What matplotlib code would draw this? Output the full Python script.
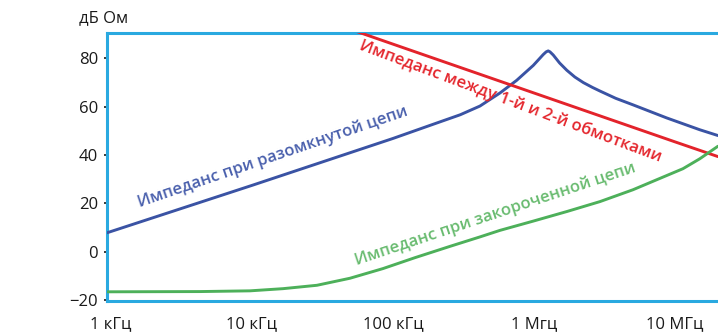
import numpy as np
import matplotlib
matplotlib.use("Agg")
import matplotlib.pyplot as plt

# ---- data ----
blue_f = [9.37e2, 1e4, 1e5, 1.83e5, 3e5, 4.14e5, 5.74e5, 7.53e5, 9.89e5, 1.164e6,
          1.22e6, 1.262e6, 1.30e6, 1.37e6, 1.52e6, 1.71e6, 1.95e6, 2.24e6, 2.6e6, 2.94e6,
          3.8e6, 5.04e6, 8.73e6, 1.50e7, 2.02e7]
blue_v = [7.8, 27.4, 46.8, 52.2, 56.6, 60.2, 65.6, 70.8, 77.0, 81.5,
          82.6, 83.0, 82.6, 81.3, 78.0, 75.0, 72.2, 69.9, 67.9, 66.4,
          63.4, 60.7, 55.3, 50.4, 48.0]

red_f = [5e4, 1e5, 1e6, 1e7, 2.02e7]
red_v = [91.9, 85.8, 65.6, 45.4, 39.3]

green_f = [9.37e2, 4.28e3, 9.68e3, 1.66e4, 2.89e4, 4.95e4, 8.49e4, 1.43e5, 2.54e5, 4.14e5,
           5.74e5, 9.84e5, 1.714e6, 2.94e6, 5.04e6, 7.83e6, 1.14e7, 1.50e7, 2.02e7]
green_v = [-16.6, -16.5, -16.2, -15.3, -13.9, -11.0, -7.0, -2.5, 2.2, 6.1,
           8.8, 12.6, 16.6, 20.7, 25.6, 30.3, 34.3, 38.4, 43.6]

x_ticks = [1e3, 1e4, 1e5, 1e6, 1e7]
x_labels = ["1 кГц", "10 кГц", "100 кГц", "1 Мгц", "10 МГц"]
y_ticks = [-20, 0, 20, 40, 60, 80]
y_labels = ["\u221220", "0", "20", "40", "60", "80"]

plt.rcParams['font.family'] = ['Open Sans', 'DejaVu Sans']

W, H = 718, 334
fig = plt.figure(figsize=(W / 100, H / 100), dpi=100)
ax = fig.add_axes([107 / W, 1 - 301 / H, 1 - 107 / W, (301 - 33) / H])

blue_c = "#3a53a4"
red_c = "#e3232b"
green_c = "#4db05a"
frame_c = "#2aa9e0"

kw = dict(lw=2.1, solid_joinstyle='round', solid_capstyle='round', zorder=3)
ax.plot(blue_f, blue_v, color=blue_c, **kw)
ax.plot(red_f, red_v, color=red_c, **kw)
ax.plot(green_f, green_v, color=green_c, **kw)

ax.set_xscale('log')
ax.set_xlim(9.37e2, 2.02e7)
ax.set_ylim(-20.4, 90.4)

ax.set_xticks(x_ticks)
ax.set_xticklabels(x_labels)
ax.xaxis.set_minor_locator(matplotlib.ticker.NullLocator())
ax.set_yticks(y_ticks)
ax.set_yticklabels(y_labels)
ax.tick_params(axis='x', length=0, pad=11, labelsize=12, colors='#1a1a1a')
ax.tick_params(axis='y', length=2.5, width=1.2, pad=4, labelsize=12, colors='#1a1a1a')

for s in ['left', 'top', 'bottom']:
    ax.spines[s].set_color(frame_c)
    ax.spines[s].set_linewidth(2.2)
ax.spines['right'].set_visible(False)

ax.text(1.41e4, 38.9, "Импеданс при разомкнутой цепи", color="#4a60ad",
        rotation=18.9, rotation_mode='anchor', ha='center', va='center',
        fontsize=12, fontweight='semibold', zorder=4)
ax.text(6.87e5, 62.3, "Импеданс между 1-й и 2-й обмотками", color="#e4262d",
        rotation=-20.5, rotation_mode='anchor', ha='center', va='center',
        fontsize=12, fontweight='semibold', zorder=4)
ax.text(5.28e5, 15.6, "Импеданс при закороченной цепи", color="#68bb6f",
        rotation=18.5, rotation_mode='anchor', ha='center', va='center',
        fontsize=12, fontweight='semibold', zorder=4)

fig.text(104 / W, 1 - 18 / H, "дБ Ом", ha='center', va='center', fontsize=12, color='#1a1a1a')

fig.savefig("out.png", dpi=100)
